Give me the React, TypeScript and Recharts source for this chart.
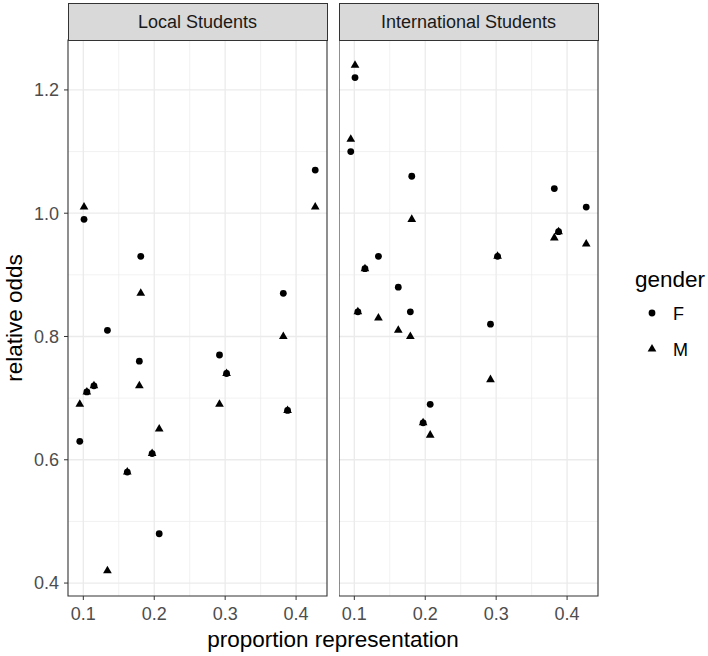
import React from 'react';
import { ScatterChart, Scatter, XAxis, YAxis, CartesianGrid, ReferenceArea } from 'recharts';

// proportion representation (shared by both panels)
const proportions = [0.095, 0.101, 0.105, 0.115, 0.134, 0.162, 0.179, 0.181, 0.197, 0.207, 0.292, 0.302, 0.382, 0.388, 0.427];

// relative odds, per panel and gender
const localF = [0.63, 0.99, 0.71, 0.72, 0.81, 0.58, 0.76, 0.93, 0.61, 0.48, 0.77, 0.74, 0.87, 0.68, 1.07];
const localM = [0.69, 1.01, 0.71, 0.72, 0.42, 0.58, 0.72, 0.87, 0.61, 0.65, 0.69, 0.74, 0.8, 0.68, 1.01];
const intlF = [1.1, 1.22, 0.84, 0.91, 0.93, 0.88, 0.84, 1.06, 0.66, 0.69, 0.82, 0.93, 1.04, 0.97, 1.01];
const intlM = [1.12, 1.24, 0.84, 0.91, 0.83, 0.81, 0.8, 0.99, 0.66, 0.64, 0.73, 0.93, 0.96, 0.97, 0.95];

const panelTitles = ['Local Students', 'International Students'];
const genders = ['F', 'M'];

const xTicks = [0.1, 0.2, 0.3, 0.4];
const xMinor = [0.15, 0.25, 0.35];
const yTicks = [0.4, 0.6, 0.8, 1.0, 1.2];
const yMinor = [0.5, 0.7, 0.9, 1.1];

const xDomain: [number, number] = [0.0784, 0.4436];
const yDomain: [number, number] = [0.379, 1.281];

const FONT = '"Liberation Sans", Arial, Helvetica, sans-serif';
const GRID = '#EBEBEB';
const DARK = '#333333';

const toPoints = (ys: number[]) => ys.map((y, i) => ({ x: proportions[i], y }));

const CircleShape = (p: any) => <circle cx={p.cx} cy={p.cy} r={3.4} fill="#000" />;

const TriangleShape = (p: any) => {
  const a = 8.7; // side length
  const R = a / Math.sqrt(3);
  const pts = `${p.cx},${p.cy - R} ${p.cx + a / 2},${p.cy + R / 2} ${p.cx - a / 2},${p.cy + R / 2}`;
  return <polygon points={pts} fill="#000" />;
};

const tickStyle = { fill: '#4D4D4D', fontSize: 18, fontFamily: FONT };

const Panel = ({ f, m, showY }: { f: number[]; m: number[]; showY: boolean }) => (
  <ScatterChart
    width={showY ? 330 : 262}
    height={656}
    margin={{ top: 40, right: 3, bottom: 0, left: 0 }}
    style={{ fontFamily: FONT }}
  >
    <CartesianGrid stroke={GRID} strokeWidth={0.7} verticalValues={xMinor} horizontalValues={yMinor} />
    <CartesianGrid stroke={GRID} strokeWidth={1.3} verticalValues={xTicks} horizontalValues={yTicks} />
    <XAxis
      type="number"
      dataKey="x"
      domain={xDomain}
      ticks={xTicks}
      interval={0}
      allowDataOverflow
      tickFormatter={(v: number) => v.toFixed(1)}
      axisLine={false}
      tickLine={{ stroke: DARK }}
      tickSize={4}
      tickMargin={7}
      tick={tickStyle}
      height={60}
    />
    <YAxis
      type="number"
      dataKey="y"
      domain={yDomain}
      ticks={yTicks}
      interval={0}
      allowDataOverflow
      hide={!showY}
      tickFormatter={(v: number) => v.toFixed(1)}
      axisLine={false}
      tickLine={{ stroke: DARK }}
      tickSize={4}
      tickMargin={5}
      tick={tickStyle}
      width={68}
    />
    <Scatter data={toPoints(f)} shape={CircleShape} isAnimationActive={false} />
    <Scatter data={toPoints(m)} shape={TriangleShape} isAnimationActive={false} />
    <ReferenceArea
      x1={xDomain[0]}
      x2={xDomain[1]}
      y1={yDomain[0]}
      y2={yDomain[1]}
      fill="none"
      stroke={DARK}
      strokeWidth={1.1}
      ifOverflow="visible"
    />
  </ScatterChart>
);

const Strip = ({ left, label }: { left: number; label: string }) => (
  <div
    style={{
      position: 'absolute',
      left,
      top: 3,
      width: 260,
      height: 38,
      boxSizing: 'border-box',
      background: '#D9D9D9',
      border: `1.1px solid ${DARK}`,
      color: '#1A1A1A',
      fontSize: 18,
      lineHeight: '36px',
      textAlign: 'center',
    }}
  >
    {label}
  </div>
);

export default function App() {
  return (
    <div
      style={{
        position: 'absolute',
        left: 0,
        top: 0,
        width: 708,
        height: 656,
        background: '#fff',
        fontFamily: FONT,
        overflow: 'hidden',
      }}
    >
      <div style={{ position: 'absolute', left: 0, top: 0 }}>
        <Panel f={localF} m={localM} showY />
      </div>
      <div style={{ position: 'absolute', left: 339, top: 0 }}>
        <Panel f={intlF} m={intlM} showY={false} />
      </div>
      <Strip left={67.5} label={panelTitles[0]} />
      <Strip left={338.5} label={panelTitles[1]} />
      <svg
        width={708}
        height={656}
        style={{ position: 'absolute', left: 0, top: 0, pointerEvents: 'none' }}
      >
        <text x={333} y={646.5} textAnchor="middle" fontSize={22.5} fill="#000" fontFamily={FONT}>
          proportion representation
        </text>
        <text
          x={21.5}
          y={318}
          textAnchor="middle"
          fontSize={22.5}
          fill="#000"
          fontFamily={FONT}
          transform="rotate(-90, 21.5, 318)"
        >
          relative odds
        </text>
        <text x={635} y={286.5} fontSize={22.5} fill="#000" fontFamily={FONT}>
          gender
        </text>
        <CircleShape cx={652} cy={313} />
        <text x={673} y={320} fontSize={18} fill="#000" fontFamily={FONT}>
          {genders[0]}
        </text>
        <TriangleShape cx={652} cy={349} />
        <text x={673} y={355.5} fontSize={18} fill="#000" fontFamily={FONT}>
          {genders[1]}
        </text>
      </svg>
    </div>
  );
}
